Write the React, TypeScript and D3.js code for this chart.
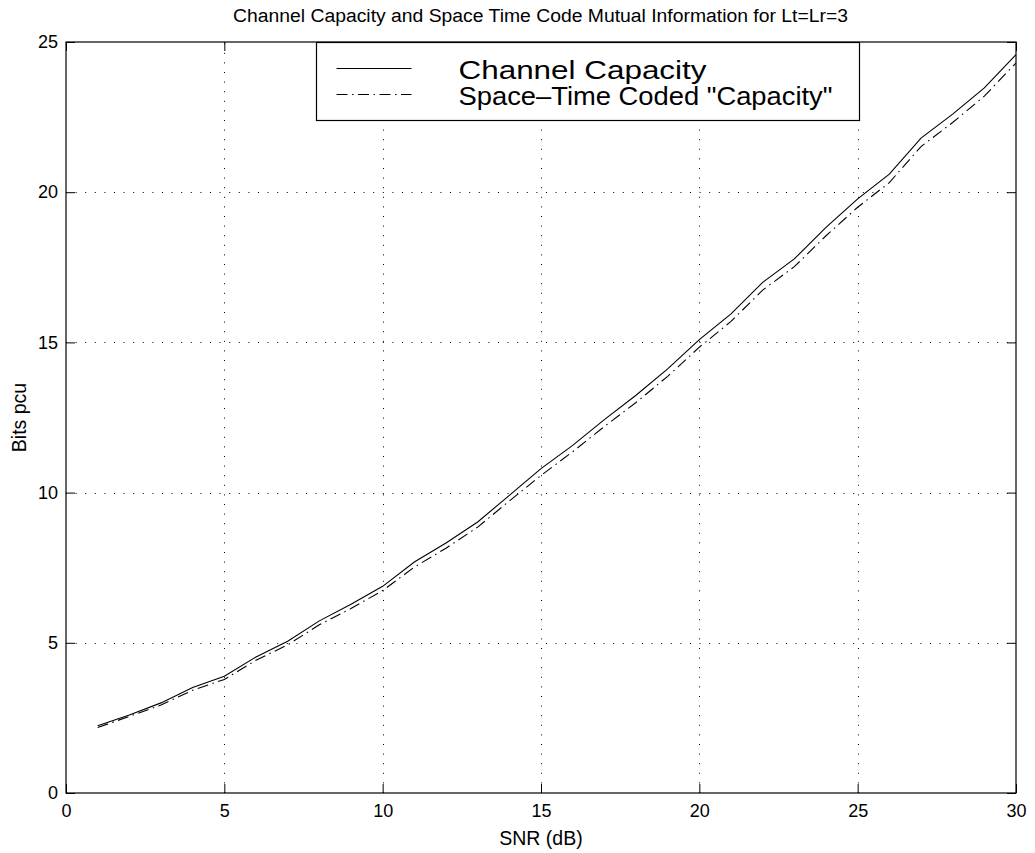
import React, { useEffect, useRef } from 'react';
import * as d3 from 'd3';

const snr = [1, 2, 3, 4, 5, 6, 7, 8, 9, 10, 11, 12, 13, 14, 15, 16, 17, 18, 19, 20, 21, 22, 23, 24, 25, 26, 27, 28, 29, 30];
const channelCapacity = [2.24, 2.6, 3.0, 3.51, 3.89, 4.53, 5.05, 5.73, 6.28, 6.88, 7.69, 8.32, 9.02, 9.91, 10.8, 11.57, 12.43, 13.24, 14.12, 15.09, 15.95, 17.0, 17.78, 18.83, 19.78, 20.6, 21.8, 22.6, 23.47, 24.58];
const spaceTimeCapacity = [2.18, 2.55, 2.93, 3.42, 3.78, 4.42, 4.93, 5.6, 6.14, 6.74, 7.52, 8.15, 8.85, 9.72, 10.57, 11.36, 12.2, 13.0, 13.87, 14.84, 15.7, 16.74, 17.52, 18.55, 19.5, 20.32, 21.52, 22.32, 23.2, 24.3];
const xTicks = [0, 5, 10, 15, 20, 25, 30];
const yTicks = [0, 5, 10, 15, 20, 25];
const seriesNames = ['Channel Capacity', 'Space\u2013Time Coded "Capacity"'];

const W = 1035;
const H = 853;
const FONT = 'Liberation Sans, Arial, Helvetica, sans-serif';

const App = () => {
  const svgRef = useRef(null);

  useEffect(() => {
    const margin = { top: 42, right: 19, bottom: 60, left: 66 };
    const width = W - margin.left - margin.right;
    const height = H - margin.top - margin.bottom;

    const root = d3.select(svgRef.current);
    root.selectAll('*').remove();

    root.append('rect').attr('width', W).attr('height', H).attr('fill', '#fff');

    root.append('text')
      .attr('x', 540.5)
      .attr('y', 22)
      .attr('text-anchor', 'middle')
      .attr('font-family', FONT)
      .attr('font-size', 18)
      .attr('textLength', 615)
      .attr('lengthAdjust', 'spacingAndGlyphs')
      .text('Channel Capacity and Space Time Code Mutual Information for Lt=Lr=3');

    const svg = root.append('g').attr('transform', `translate(${margin.left},${margin.top})`);

    const x = d3.scaleLinear().domain([0, 30]).range([0, width]);
    const y = d3.scaleLinear().domain([0, 25]).range([height, 0]);

    // dotted grid
    const grid = svg.append('g').attr('stroke', '#000').attr('stroke-width', 1).attr('stroke-dasharray', '1,8.6');
    grid.selectAll('.gx')
      .data(xTicks.slice(1, -1))
      .enter().append('line')
      .attr('x1', d => Math.round(x(d)) + 0.5).attr('x2', d => Math.round(x(d)) + 0.5)
      .attr('y1', height).attr('y2', 0);
    grid.selectAll('.gy')
      .data(yTicks.slice(1, -1))
      .enter().append('line')
      .attr('y1', d => Math.round(y(d)) + 0.5).attr('y2', d => Math.round(y(d)) + 0.5)
      .attr('x1', 0).attr('x2', width);

    // axes with inward ticks, matlab-like box
    const tick = 9;
    svg.append('g')
      .attr('transform', `translate(0,${height})`)
      .call(d3.axisBottom(x).tickValues(xTicks).tickSizeInner(-tick).tickSizeOuter(0).tickPadding(11))
      .call(g => g.select('.domain').remove());
    svg.append('g')
      .call(d3.axisTop(x).tickValues(xTicks).tickSizeInner(-tick).tickSizeOuter(0).tickFormat(() => ''))
      .call(g => g.select('.domain').remove());
    svg.append('g')
      .call(d3.axisLeft(y).tickValues(yTicks).tickSizeInner(-tick).tickSizeOuter(0).tickPadding(8))
      .call(g => g.select('.domain').remove());
    svg.append('g')
      .attr('transform', `translate(${width},0)`)
      .call(d3.axisRight(y).tickValues(yTicks).tickSizeInner(-tick).tickSizeOuter(0).tickFormat(() => ''))
      .call(g => g.select('.domain').remove());

    svg.selectAll('.tick text')
      .attr('font-family', FONT)
      .attr('font-size', 18)
      .attr('fill', '#000');
    svg.selectAll('.tick line').attr('stroke', '#000');

    svg.append('rect')
      .attr('x', 0).attr('y', 0)
      .attr('width', width).attr('height', height)
      .attr('fill', 'none').attr('stroke', '#000').attr('stroke-width', 1.2);

    const line = d3.line<number>()
      .x((_, i) => x(snr[i]))
      .y(d => y(d));

    svg.append('path')
      .datum(channelCapacity)
      .attr('d', line)
      .attr('fill', 'none')
      .attr('stroke', '#000')
      .attr('stroke-width', 1.1);

    svg.append('path')
      .datum(spaceTimeCapacity)
      .attr('d', line)
      .attr('fill', 'none')
      .attr('stroke', '#000')
      .attr('stroke-width', 1.1)
      .attr('stroke-dasharray', '11,4.5,1.5,4.5');

    // legend
    const lg = root.append('g').attr('transform', 'translate(316.5,42.5)');
    lg.append('rect')
      .attr('width', 543).attr('height', 78)
      .attr('fill', '#fff').attr('stroke', '#000').attr('stroke-width', 1.2);
    const dashes = [null, '11,4.5,1.5,4.5'];
    const textWidths = [248, 374];
    seriesNames.forEach((name, i) => {
      const ly = 26 + i * 26;
      lg.append('line')
        .attr('x1', 20).attr('x2', 95)
        .attr('y1', ly).attr('y2', ly)
        .attr('stroke', '#000').attr('stroke-width', 1.1)
        .attr('stroke-dasharray', dashes[i]);
      lg.append('text')
        .attr('x', 142).attr('y', ly + 10)
        .attr('font-family', FONT)
        .attr('font-size', 25)
        .attr('textLength', textWidths[i])
        .attr('lengthAdjust', 'spacingAndGlyphs')
        .text(name);
    });

    root.append('text')
      .attr('x', margin.left + width / 2)
      .attr('y', 845)
      .attr('text-anchor', 'middle')
      .attr('font-family', FONT)
      .attr('font-size', 19.5)
      .text('SNR (dB)');

    root.append('text')
      .attr('transform', `translate(26,${margin.top + height / 2}) rotate(-90)`)
      .attr('text-anchor', 'middle')
      .attr('font-family', FONT)
      .attr('font-size', 19.5)
      .text('Bits pcu');
  }, []);

  return (
    <svg ref={svgRef} width={W} height={H} style={{ display: 'block', position: 'absolute', left: 0, top: 0 }} />
  );
};

export default App;
